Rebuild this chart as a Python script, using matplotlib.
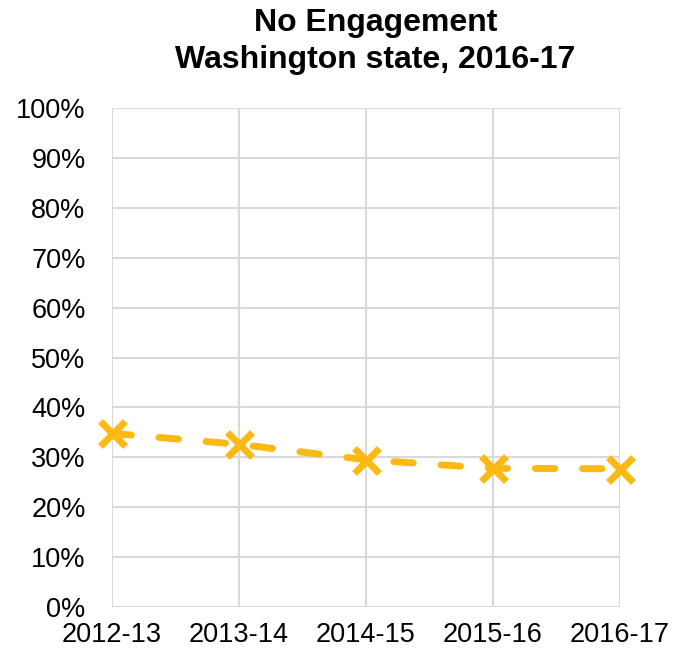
import numpy as np
import matplotlib
matplotlib.use("Agg")
import matplotlib.pyplot as plt
from matplotlib.ticker import PercentFormatter

# data
years = ['2012-13', '2013-14', '2014-15', '2015-16', '2016-17']
no_engagement = [34.8, 32.6, 29.5, 27.8, 27.7]
y_ticks = np.arange(0, 101, 10)

plt.rcParams['font.family'] = ['Liberation Sans', 'DejaVu Sans']

fig = plt.figure(figsize=(6.85, 6.51), dpi=100)
ax = fig.add_axes([0.1635, 0.0676, 0.905 - 0.1635, 0.834 - 0.0676])

x = np.arange(len(years))
ax.plot(x, no_engagement, color='#FDB913', linewidth=5,
        linestyle=(0, (2.8, 4.0)), dash_capstyle='round',
        marker='x', markersize=18, markeredgewidth=5, clip_on=False, zorder=3)

ax.set_xlim(0, len(years) - 1)
ax.set_ylim(0, 100)
ax.set_xticks(x)
ax.set_xticklabels(years)
ax.set_yticks(y_ticks)
ax.yaxis.set_major_formatter(PercentFormatter(decimals=0))
ax.tick_params(axis='both', length=0, labelsize=19.5, colors='black')
ax.tick_params(axis='y', pad=19)
ax.tick_params(axis='x', pad=11)

ax.grid(True, color='#D9D9D9', linewidth=1.5)
ax.set_axisbelow(True)
for s in ax.spines.values():
    s.set_visible(False)

fig.suptitle('No Engagement\nWashington state, 2016-17', fontsize=23,
             fontweight='bold', x=0.548, y=0.988, va='top', linespacing=1.33)

fig.savefig('out.png', dpi=100)
